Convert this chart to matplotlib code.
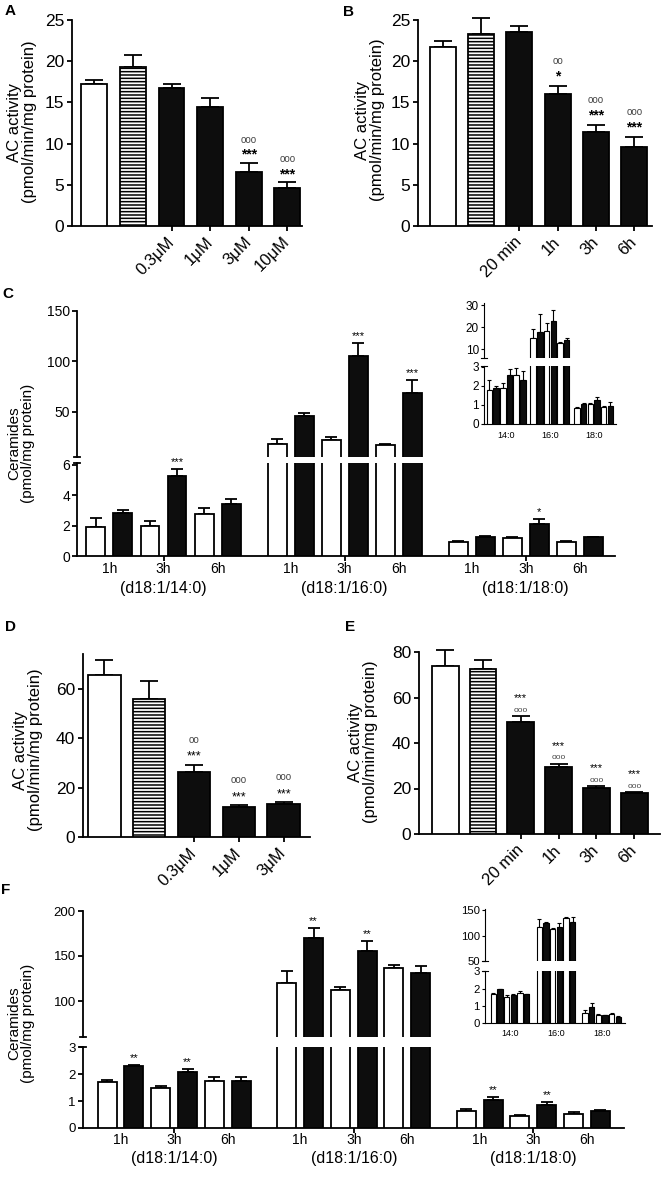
import numpy as np
import matplotlib
matplotlib.use('Agg')
import matplotlib.pyplot as plt

plt.rcParams['font.family'] = ['Liberation Sans', 'DejaVu Sans']
plt.rcParams['hatch.linewidth'] = 1.1

W, H = 666, 1177
PX = 72 / 100.0  # points per pixel

# ---------------- data ----------------
# Panel A (AC activity, dose)
a_ticklabels = ['0.3μM', '1μM', '3μM', '10μM']
a_values = [17.2, 19.3, 16.8, 14.5, 6.5, 4.6]
a_errors = [0.5, 1.5, 0.4, 1.0, 1.2, 0.7]
a_stars = ['', '', '', '', '***', '***']
a_circles = ['', '', '', '', 'ooo', 'ooo']

# Panel B (AC activity, time)
b_ticklabels = ['20 min', '1h', '3h', '6h']
b_values = [21.7, 23.3, 23.5, 16.0, 11.35, 9.55]
b_errors = [0.7, 1.9, 0.8, 1.0, 0.95, 1.3]
b_stars = ['', '', '', '*', '***', '***']
b_circles = ['', '', '', 'oo', 'ooo', 'ooo']

# Panel C (ceramides)
c14_values = [1.9, 2.85, 2.0, 5.25, 2.75, 3.4]
c14_errors = [0.6, 0.15, 0.3, 0.45, 0.4, 0.35]
c14_stars = ['', '', '', '***', '', '']
c16_values = [18.3, 46.0, 21.7, 105.0, 16.7, 68.3]
c16_errors = [4.4, 2.3, 3.3, 13.3, 1.6, 12.7]
c16_stars = ['', '', '', '***', '', '***']
c18_values = [0.95, 1.25, 1.2, 2.1, 0.95, 1.25]
c18_errors = [0.05, 0.03, 0.05, 0.35, 0.04, 0.0]
c18_stars = ['', '', '', '*', '', '']
c_inset14_values = [1.78, 1.87, 1.87, 2.6, 2.6, 2.3]
c_inset14_errors = [0.56, 0.12, 0.29, 0.3, 0.37, 0.5]
c_inset16_values = [15.3, 18.0, 18.5, 22.9, 12.7, 14.2]
c_inset16_errors = [3.9, 7.8, 3.3, 4.7, 0.6, 1.1]
c_inset18_values = [0.86, 1.03, 1.03, 1.26, 0.87, 0.94]
c_inset18_errors = [0.06, 0.09, 0.05, 0.17, 0.07, 0.21]

# Panel D (AC activity, dose)
d_ticklabels = ['0.3μM', '1μM', '3μM']
d_values = [65.4, 55.8, 26.1, 12.0, 13.3]
d_errors = [6.3, 7.4, 3.1, 0.8, 0.8]
d_stars = ['', '', '***', '***', '***']
d_circles = ['', '', 'oo', 'ooo', 'ooo']

# Panel E (AC activity, time)
e_ticklabels = ['20 min', '1h', '3h', '6h']
e_values = [73.9, 72.4, 49.3, 29.6, 20.4, 18.0]
e_errors = [6.8, 4.0, 2.5, 1.2, 0.5, 0.4]
e_stars = ['', '', '***', '***', '***', '***']
e_circles = ['', '', 'ooo', 'ooo', 'ooo', 'ooo']

# Panel F (ceramides)
f14_values = [1.70, 2.32, 1.49, 2.07, 1.76, 1.76]
f14_errors = [0.07, 0.03, 0.08, 0.13, 0.12, 0.12]
f14_stars = ['', '**', '', '**', '', '']
f16_values = [119.6, 169.6, 112.2, 155.6, 136.3, 131.5]
f16_errors = [14.0, 11.0, 3.0, 11.0, 3.7, 7.7]
f16_stars = ['', '**', '', '**', '', '']
f18_values = [0.62, 1.05, 0.43, 0.85, 0.52, 0.62]
f18_errors = [0.1, 0.09, 0.07, 0.12, 0.06, 0.04]
f18_stars = ['', '**', '', '**', '', '']
f_inset14_values = [1.67, 1.96, 1.53, 1.63, 1.73, 1.67]
f_inset14_errors = [0.06, 0.04, 0.07, 0.06, 0.13, 0.03]
f_inset16_values = [117, 124, 112, 117, 134, 127]
f_inset16_errors = [15, 3, 3, 8, 3, 9]
f_inset18_values = [0.6, 0.94, 0.45, 0.45, 0.55, 0.35]
f_inset18_errors = [0.15, 0.2, 0.05, 0.04, 0.05, 0.04]

time_labels = ['1h', '3h', '6h']
species_labels = ['(d18:1/14:0)', '(d18:1/16:0)', '(d18:1/18:0)']
inset_labels = ['14:0', '16:0', '18:0']
kinds_ac6 = ['white', 'striped', 'black', 'black', 'black', 'black']
kinds_ac5 = ['white', 'striped', 'black', 'black', 'black']

# ---------------- drawing ----------------
fig = plt.figure(figsize=(W / 100, H / 100), dpi=100)
FILL = {'white': 'white', 'striped': 'white', 'black': '#0d0d0d'}


def fig_axes(left, top, right, bottom):
    return fig.add_axes([left / W, 1 - bottom / H, (right - left) / W, (bottom - top) / H])


def draw_bars(ax, x, values, errors, kinds, width, lw, capsize, clip=True):
    for xi, v, k in zip(x, values, kinds):
        ax.bar(xi, v, width, color=FILL[k], edgecolor='black', linewidth=lw,
               hatch='-----' if k == 'striped' else None, zorder=3)
    ax.errorbar(x, values, yerr=[np.zeros(len(values)), errors], fmt='none',
                ecolor='black', elinewidth=lw, capsize=capsize, capthick=lw, zorder=2,
                clip_on=clip)


def simple_panel(box, values, errors, kinds, ticklabels, ylim, yticks, xlim, width,
                 stars, circles, star_off, circ_off, star_fs, star_w, circ_fs):
    ax = fig_axes(*box)
    lw = 1.3
    for s in ('top', 'right'):
        ax.spines[s].set_visible(False)
    for s in ('left', 'bottom'):
        ax.spines[s].set_linewidth(lw)
    x = np.arange(len(values))
    draw_bars(ax, x, values, errors, kinds, width, lw, 6.5, clip=False)
    ax.set_xlim(*xlim)
    ax.set_ylim(*ylim)
    ax.set_yticks(yticks)
    ax.set_xticks(x[len(x) - len(ticklabels):])
    ax.set_xticklabels(ticklabels, rotation=45, ha='right', va='center',
                       rotation_mode='anchor', fontsize=12)
    ax.tick_params(axis='y', direction='out', length=3.6, width=lw, labelsize=12.5, pad=2)
    ax.tick_params(axis='x', direction='out', length=3.6, width=lw, pad=6)
    for xi, v, e, st, ci in zip(x, values, errors, stars, circles):
        if st:
            ax.annotate(st, xy=(xi, v + e), xytext=(0, star_off * PX), textcoords='offset points',
                        ha='center', va='center', fontsize=star_fs, fontweight=star_w,
                        annotation_clip=False)
        if ci:
            ax.annotate(ci, xy=(xi, v + e), xytext=(0, circ_off * PX), textcoords='offset points',
                        ha='center', va='center', fontsize=circ_fs, color='#444444',
                        annotation_clip=False)
    return ax


def broken_panel(xr, up, lo, ylim_up, ylim_lo, yt_up, yt_lo, xlim, offset, width,
                 vals, errs, stars, lw, capsize, tick_fs, ytick_len, main=True,
                 star_fs=8, star_off=7, xlabel_fs=10, group_fs=11.5,
                 time_off=13, group_off=32, xtick_len=3.6, inset_off=12, inset_fs=6.5):
    ax_u = fig_axes(xr[0], up[0], xr[1], up[1])
    ax_l = fig_axes(xr[0], lo[0], xr[1], lo[1])
    n = len(vals[0])
    kinds = ['white' if i % 2 == 0 else 'black' for i in range(n)]
    xs = [g * offset + np.arange(n) for g in range(len(vals))]
    for x, v, e in zip(xs, vals, errs):
        draw_bars(ax_l, x, v, e, kinds, width, lw, capsize)
        # only the groups that rise past the lower segment reach the upper one
        if max(v) > ylim_lo[1]:
            draw_bars(ax_u, x, v, e, kinds, width, lw, capsize)
    for ax in (ax_u, ax_l):
        ax.set_xlim(*xlim)
        for s in ('top', 'right'):
            ax.spines[s].set_visible(False)
        ax.spines['left'].set_linewidth(lw)
        ax.spines['bottom'].set_linewidth(lw)
        ax.tick_params(axis='y', direction='out', length=ytick_len, width=lw,
                       labelsize=tick_fs, pad=1.5)
    ax_u.set_ylim(*ylim_up)
    ax_l.set_ylim(*ylim_lo)
    ax_u.set_yticks(yt_up)
    ax_l.set_yticks(yt_lo)
    ax_u.spines['bottom'].set_visible(False)
    ax_u.set_xticks([])
    # break caps on the y axis
    wpx = xr[1] - xr[0]
    h = 3.0 / wpx
    ax_u.plot([-h, h], [0, 0], transform=ax_u.transAxes, color='black', lw=lw, clip_on=False)
    ax_l.plot([-h, h], [1, 1], transform=ax_l.transAxes, color='black', lw=lw, clip_on=False)
    centers = [x.mean() for x in xs]
    if main:
        ax_l.set_xticks(centers)
        ax_l.set_xticklabels(['', '', ''])
        ax_l.tick_params(axis='x', direction='out', length=xtick_len, width=lw)
        for x, gl in zip(xs, species_labels):
            for k, tl in enumerate(time_labels):
                ax_l.annotate(tl, xy=(x[2 * k:2 * k + 2].mean(), 0),
                              xycoords=('data', 'axes fraction'),
                              xytext=(0, -time_off * PX), textcoords='offset points',
                              ha='center', va='center', fontsize=xlabel_fs, annotation_clip=False)
            ax_l.annotate(gl, xy=(x.mean(), 0), xycoords=('data', 'axes fraction'),
                          xytext=(0, -group_off * PX), textcoords='offset points',
                          ha='center', va='center', fontsize=group_fs, annotation_clip=False)
        for x, v, e, st in zip(xs, vals, errs, stars):
            for xi, vi, ei, s in zip(x, v, e, st):
                if not s:
                    continue
                ax = ax_l if vi + ei <= ylim_lo[1] else ax_u
                ax.annotate(s, xy=(xi, vi + ei), xytext=(0, star_off * PX),
                            textcoords='offset points', ha='center', va='center',
                            fontsize=star_fs, annotation_clip=False)
    else:
        ax_l.set_xticks([])
        for c, lab in zip(centers, inset_labels):
            ax_l.annotate(lab, xy=(c, 0), xycoords=('data', 'axes fraction'),
                          xytext=(0, -inset_off * PX), textcoords='offset points',
                          ha='center', va='center', fontsize=inset_fs, annotation_clip=False)
    return ax_u, ax_l


# Panel A
simple_panel((72, 20, 302, 226), a_values, a_errors, kinds_ac6, a_ticklabels,
             (0, 25), [0, 5, 10, 15, 20, 25], (-0.58, 5.38), 0.67,
             a_stars, a_circles, 8, 23, 10, 'bold', 7)
# Panel B
simple_panel((418, 20, 652, 226), b_values, b_errors, kinds_ac6, b_ticklabels,
             (0, 25), [0, 5, 10, 15, 20, 25], (-0.64, 5.46), 0.68,
             b_stars, b_circles, 9, 25, 10, 'bold', 7)
# Panel D
simple_panel((83, 654, 310, 837), d_values, d_errors, kinds_ac5, d_ticklabels,
             (0, 74), [0, 20, 40, 60], (-0.48, 4.59), 0.72,
             d_stars, d_circles, 8, 25, 9, 'normal', 7)
# Panel E
simple_panel((419, 652, 660, 834), e_values, e_errors, kinds_ac6, e_ticklabels,
             (0, 80), [0, 20, 40, 60, 80], (-0.69, 5.68), 0.71,
             e_stars, e_circles, 18, 6, 8, 'normal', 6)

# Panel C main
broken_panel((77, 615), (311, 457), (463, 556), (5, 150), (0, 6.1),
             [50, 100, 150], [0, 2, 4, 6], (-0.7, 19.2), 6.7, 0.7,
             [c14_values, c16_values, c18_values], [c14_errors, c16_errors, c18_errors],
             [c14_stars, c16_stars, c18_stars], 1.3, 4.3, 10, 3.6, main=True)
# Panel C inset
broken_panel((484, 616), (303, 358), (366, 424), (6, 31), (0, 3.05),
             [10, 20, 30], [0, 1, 2, 3], (-0.82, 18.95), 6.55, 0.82,
             [c_inset14_values, c_inset16_values, c_inset18_values],
             [c_inset14_errors, c_inset16_errors, c_inset18_errors],
             None, 0.8, 1.3, 8.5, 2.2, main=False)

# Panel F main
broken_panel((83, 624), (911, 1037), (1047, 1128), (60, 200), (0, 3.01),
             [100, 150, 200], [0, 1, 2, 3], (-0.9, 19.28), 6.7, 0.71,
             [f14_values, f16_values, f18_values], [f14_errors, f16_errors, f18_errors],
             [f14_stars, f16_stars, f18_stars], 1.3, 4.3, 9.5, 3.6, main=True,
             time_off=12, group_off=31)
# Panel F inset
broken_panel((485, 625), (909, 961), (971, 1023), (50, 152), (0, 3.02),
             [50, 100, 150], [0, 1, 2, 3], (-1.25, 19.75), 6.88, 0.8,
             [f_inset14_values, f_inset16_values, f_inset18_values],
             [f_inset14_errors, f_inset16_errors, f_inset18_errors],
             None, 0.8, 1.3, 8.2, 2.2, main=False, inset_off=11)

# y labels
def ylab(x, y, text, fs):
    fig.text(x / W, 1 - y / H, text, rotation=90, ha='center', va='center',
             fontsize=fs, multialignment='center', linespacing=0.95)

ylab(22, 122, 'AC activity\n(pmol/min/mg protein)', 12)
ylab(370, 120, 'AC activity\n(pmol/min/mg protein)', 12)
ylab(21, 443, 'Ceramides\n(pmol/mg protein)', 11)
ylab(28, 750, 'AC activity\n(pmol/min/mg protein)', 12)
ylab(363, 742, 'AC activity\n(pmol/min/mg protein)', 12)
ylab(21, 1023, 'Ceramides\n(pmol/mg protein)', 11)

# panel letters
for lx, ly, lt in [(10, 11, 'A'), (348, 12, 'B'), (8, 294, 'C'),
                   (10, 627, 'D'), (350, 627, 'E'), (6, 890, 'F')]:
    fig.text(lx / W, 1 - ly / H, lt, ha='center', va='center', fontsize=11, fontweight='bold')

fig.savefig('out.png', dpi=100)
